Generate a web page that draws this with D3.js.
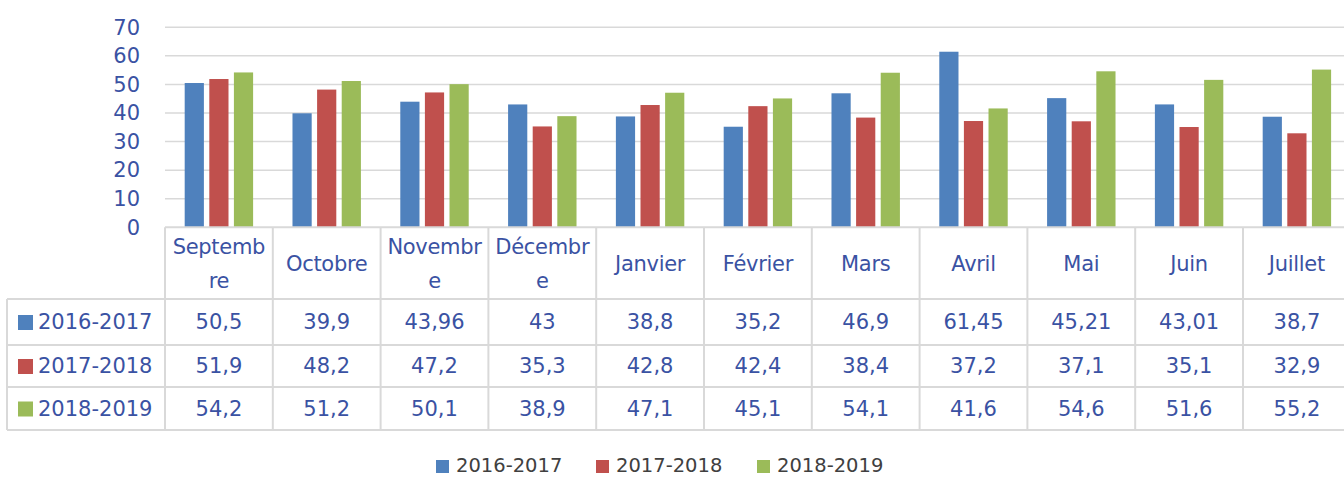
<!DOCTYPE html>
<html>
<head>
<meta charset="utf-8">
<script src="https://cdn.jsdelivr.net/npm/d3@7"></script>
<style>
  body { margin: 0; background: #fff; overflow: hidden; }
  text { font-family: "DejaVu Sans", sans-serif; }
</style>
</head>
<body>
<div id="chart"></div>
<script>
// Données
var months = ["Septembre", "Octobre", "Novembre", "Décembre", "Janvier", "Février", "Mars", "Avril", "Mai", "Juin", "Juillet"];
var monthLines = [["Septemb", "re"], ["Octobre"], ["Novembr", "e"], ["Décembr", "e"], ["Janvier"], ["Février"], ["Mars"], ["Avril"], ["Mai"], ["Juin"], ["Juillet"]];
var seriesNames = ["2016-2017", "2017-2018", "2018-2019"];
var s2016 = [50.5, 39.9, 43.96, 43, 38.8, 35.2, 46.9, 61.45, 45.21, 43.01, 38.7];
var s2017 = [51.9, 48.2, 47.2, 35.3, 42.8, 42.4, 38.4, 37.2, 37.1, 35.1, 32.9];
var s2018 = [54.2, 51.2, 50.1, 38.9, 47.1, 45.1, 54.1, 41.6, 54.6, 51.6, 55.2];
var yTicks = [0, 10, 20, 30, 40, 50, 60, 70];
var colors = ["#4f81bd", "#c0504d", "#9bbb59"];

var allSeries = [s2016, s2017, s2018];
var textColor = "#3a52a3";
var lineColor = "#d9d9d9";

var width = 1344, height = 477;
var plotLeft = 165, colW = 107.8;
var plotTop = 27.3, plotBottom = 227.3;
var rowY = [299, 345, 387, 430];
var tableLeft = 7;

var svg = d3.select("#chart").append("svg")
  .attr("width", width)
  .attr("height", height);

var x = d3.scaleBand().domain(months).range([plotLeft, plotLeft + colW * months.length]);
var xSub = d3.scaleBand().domain(seriesNames).range([0, x.bandwidth()]).paddingInner(0.22).paddingOuter(0.8);
var y = d3.scaleLinear().domain([0, 70]).range([plotBottom, plotTop]);

// Quadrillage
svg.append("g").selectAll("line")
  .data(yTicks.filter(function(d) { return d > 0; }))
  .enter().append("line")
  .attr("x1", plotLeft).attr("x2", width)
  .attr("y1", function(d) { return y(d); })
  .attr("y2", function(d) { return y(d); })
  .attr("stroke", lineColor).attr("stroke-width", 1.5);

// Axe Y
var yAxis = svg.append("g")
  .attr("transform", "translate(" + (plotLeft - 25) + ",0)")
  .call(d3.axisLeft(y).tickValues(yTicks).tickSize(0).tickPadding(0));
yAxis.select(".domain").remove();
yAxis.selectAll("text")
  .attr("fill", textColor)
  .style("font-size", "21px")
  .style("font-family", "DejaVu Sans, sans-serif");

// Barres
var groups = svg.append("g").selectAll("g")
  .data(months)
  .enter().append("g")
  .attr("transform", function(d) { return "translate(" + x(d) + ",0)"; });

groups.selectAll("rect")
  .data(function(m, i) { return seriesNames.map(function(s, j) { return {s: s, v: allSeries[j][i], j: j}; }); })
  .enter().append("rect")
  .attr("x", function(d) { return xSub(d.s); })
  .attr("width", xSub.bandwidth())
  .attr("y", function(d) { return y(d.v); })
  .attr("height", function(d) { return y(0) - y(d.v); })
  .attr("fill", function(d) { return colors[d.j]; });

// Tableau de données
var table = svg.append("g");
// lignes horizontales
table.append("line").attr("x1", plotLeft).attr("x2", width).attr("y1", plotBottom).attr("y2", plotBottom)
  .attr("stroke", lineColor).attr("stroke-width", 2);
rowY.forEach(function(ry) {
  table.append("line").attr("x1", tableLeft).attr("x2", width).attr("y1", ry).attr("y2", ry)
    .attr("stroke", lineColor).attr("stroke-width", 2);
});
// lignes verticales
table.append("line").attr("x1", tableLeft).attr("x2", tableLeft).attr("y1", rowY[0]).attr("y2", rowY[3])
  .attr("stroke", lineColor).attr("stroke-width", 2);
months.forEach(function(m) {
  table.append("line").attr("x1", x(m)).attr("x2", x(m)).attr("y1", plotBottom).attr("y2", rowY[3])
    .attr("stroke", lineColor).attr("stroke-width", 2);
});

// En-têtes des mois
months.forEach(function(m, i) {
  var lines = monthLines[i];
  var cx = x(m) + x.bandwidth() / 2;
  var midY = (plotBottom + rowY[0]) / 2;
  lines.forEach(function(l, k) {
    table.append("text")
      .attr("x", cx)
      .attr("y", midY + (k - (lines.length - 1) / 2) * 34)
      .attr("dy", "0.35em")
      .attr("text-anchor", "middle")
      .attr("fill", textColor)
      .style("font-size", "21px")
      .style("letter-spacing", "-0.3px")
      .text(l);
  });
});

// Lignes des séries
seriesNames.forEach(function(s, j) {
  var cy = (rowY[j] + rowY[j + 1]) / 2;
  table.append("rect")
    .attr("x", 18).attr("y", cy - 7).attr("width", 15).attr("height", 15)
    .attr("fill", colors[j]);
  table.append("text")
    .attr("x", 38).attr("y", cy)
    .attr("dy", "0.35em")
    .attr("fill", textColor)
    .style("font-size", "21px")
    .text(s);
  months.forEach(function(m, i) {
    table.append("text")
      .attr("x", x(m) + x.bandwidth() / 2)
      .attr("y", cy)
      .attr("dy", "0.35em")
      .attr("text-anchor", "middle")
      .attr("fill", textColor)
      .style("font-size", "21px")
      .text(String(allSeries[j][i]).replace(".", ","));
  });
});

// Légende
var legendX = [436, 596, 757];
var legend = svg.append("g");
seriesNames.forEach(function(s, j) {
  legend.append("rect")
    .attr("x", legendX[j]).attr("y", 460).attr("width", 13).attr("height", 13)
    .attr("fill", colors[j]);
  legend.append("text")
    .attr("x", legendX[j] + 20).attr("y", 465)
    .attr("dy", "0.35em")
    .attr("fill", "#404040")
    .style("font-size", "19.5px")
    .text(s);
});
</script>
</body>
</html>
